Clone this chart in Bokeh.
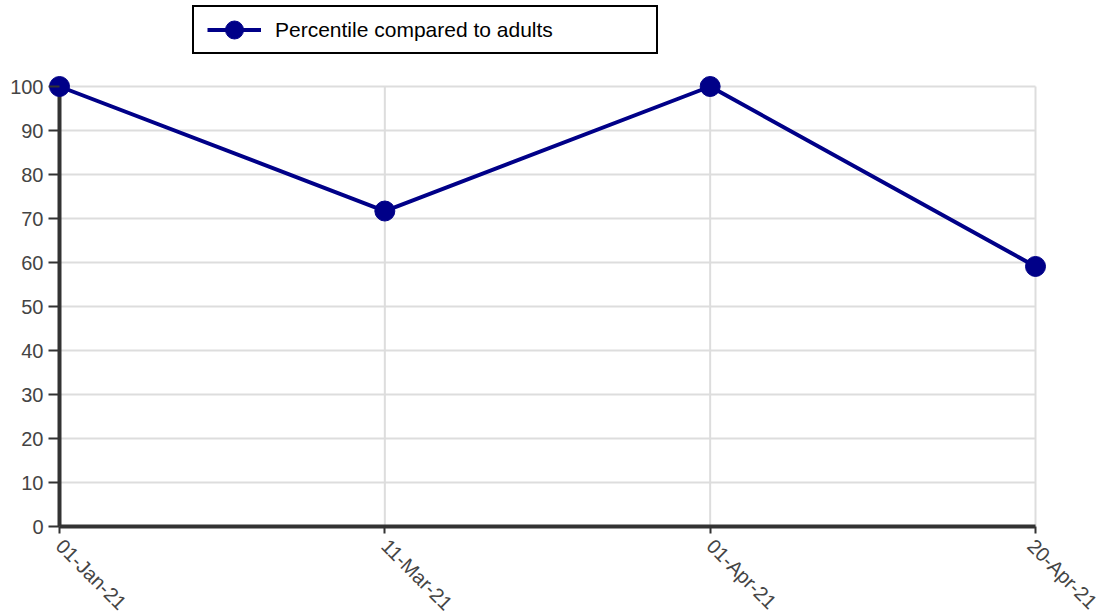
import math
from bokeh.plotting import figure
from bokeh.models import ColumnDataSource, Range1d, FixedTicker, Legend, LegendItem
from bokeh.embed import file_html
from bokeh.resources import INLINE

dates = ["01-Jan-21", "11-Mar-21", "01-Apr-21", "20-Apr-21"]
percentile = [100, 71.7, 100, 59.1]
series_name = "Percentile compared to adults"
y_ticks = list(range(0, 101, 10))

xs = list(range(len(dates)))
src = ColumnDataSource(dict(x=xs, y=percentile))

FONT = "Liberation Sans"
COLOR = "#000088"
AXIS = "#333333"

# data area is 976 x 440 px; the frame is padded (left/right and up to the top of
# the figure) so that edge markers and the legend are not clipped
DATA_W, DATA_H = 976, 440
PADX = 11
TOP_SPACE = 86
x_per_px = (len(dates) - 1) / DATA_W
y_per_px = 100 / DATA_H
x_start, x_end = -PADX * x_per_px, (len(dates) - 1) + PADX * x_per_px
y_start, y_end = 0, 100 + TOP_SPACE * y_per_px

p = figure(output_backend="svg", toolbar_location=None,
           frame_width=DATA_W + 2 * PADX, frame_height=DATA_H + TOP_SPACE,
           min_border_left=48, min_border_top=0, min_border_right=55, min_border_bottom=74,
           x_range=Range1d(x_start, x_end), y_range=Range1d(y_start, y_end))
p.outline_line_color = None
p.background_fill_color = "white"
p.border_fill_color = "white"
p.xgrid.visible = False
p.ygrid.visible = False

# grid lines built from the tick arrays
last = len(dates) - 1
p.segment(x0=[0] * len(y_ticks), y0=y_ticks, x1=[last] * len(y_ticks), y1=y_ticks,
          line_color="#dddddd", line_width=2, level="underlay")
p.segment(x0=xs, y0=[y_ticks[0]] * len(xs), x1=xs, y1=[y_ticks[-1]] * len(xs),
          line_color="#dddddd", line_width=2, level="underlay")
# y axis line at x = first category
p.segment(x0=[xs[0]], y0=[y_ticks[0]], x1=[xs[0]], y1=[y_ticks[-1]],
          line_color=AXIS, line_width=4, level="underlay")

line = p.line("x", "y", source=src, line_color=COLOR, line_width=4)
dots = p.scatter("x", "y", source=src, size=20, fill_color=COLOR, line_color=COLOR)

p.xaxis.ticker = FixedTicker(ticks=xs)
p.xaxis.major_label_overrides = {i: d for i, d in enumerate(dates)}
p.xaxis.major_label_orientation = -math.pi / 4
p.yaxis.ticker = FixedTicker(ticks=y_ticks)
p.xaxis.bounds = (0, last)
p.yaxis.bounds = (0, 100)
for ax in (p.xaxis[0], p.yaxis[0]):
    ax.axis_line_color = AXIS
    ax.axis_line_width = 4
    ax.major_tick_line_color = AXIS
    ax.major_tick_line_width = 2
    ax.minor_tick_line_color = None
    ax.major_label_text_font = FONT
    ax.major_label_text_font_size = "20px"
    ax.major_label_text_color = "#444444"
p.yaxis.axis_line_color = None
p.yaxis.major_tick_in = PADX
p.yaxis.major_tick_out = 0
p.yaxis.major_label_standoff = 5
p.xaxis.major_tick_in = 0
p.xaxis.major_tick_out = 7
p.xaxis.major_label_standoff = 9

legend = Legend(items=[LegendItem(label=series_name, renderers=[line, dots])],
                location=(144, 472), orientation="horizontal",
                title=" ", title_location="left", title_text_font_size="1px", title_standoff=12,
                border_line_color="black", border_line_width=2, border_line_alpha=1,
                background_fill_color="white", background_fill_alpha=1,
                label_text_font=FONT, label_text_font_size="21px", label_text_color="black",
                glyph_width=54, glyph_height=45, label_width=381, label_standoff=14,
                padding=0, margin=0, spacing=0)
p.add_layout(legend, "center")

open("out.html", "w").write(file_html(p, INLINE))
